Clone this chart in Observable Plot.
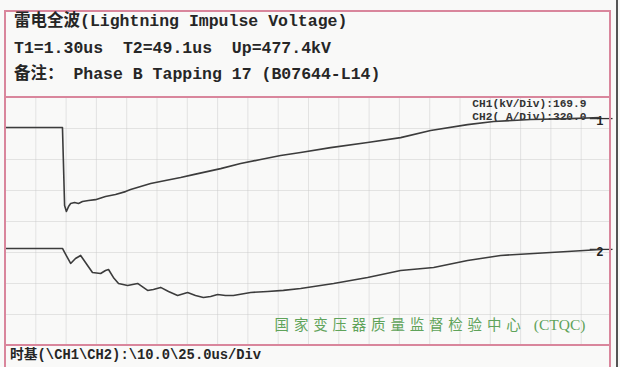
<!DOCTYPE html>
<html><head><meta charset="utf-8">
<script src="https://cdn.jsdelivr.net/npm/d3@7"></script>
<script src="https://cdn.jsdelivr.net/npm/@observablehq/plot@0.6"></script>
<style>
body{margin:0;background:#f9f9f8;width:620px;height:367px;overflow:hidden;position:relative;font-family:"Liberation Mono","Noto Sans CJK SC",monospace;}
.box{position:absolute;left:4px;top:10px;width:607px;height:420px;border:2px solid #d9869c;box-sizing:border-box;}
.hl{position:absolute;left:4px;width:607px;height:2px;background:#d9869c;}
.edge{position:absolute;left:616px;top:0;width:2px;height:367px;background:#555;}
.hdr{position:absolute;left:14px;font-size:16.5px;font-weight:bold;color:#262626;white-space:pre;line-height:18px;}
.ftr{position:absolute;left:10px;top:347px;font-size:13.8px;font-weight:bold;color:#262626;white-space:pre;line-height:18px;}
#chart{position:absolute;left:0;top:97px;}
#chart svg{overflow:visible;}
g[fill="#5fa35a"] text{letter-spacing:4.8px;}
</style>
</head><body>
<div id="chart"></div>
<div class="box"></div>
<div class="hl" style="top:96px"></div>
<div class="hl" style="top:344px"></div>
<div class="edge"></div>
<div class="hdr" style="top:13px">雷电全波(Lightning Impulse Voltage)</div>
<div class="hdr" style="top:40px">T1=1.30us  T2=49.1us  Up=477.4kV</div>
<div class="hdr" style="top:66px">备注： Phase B Tapping 17 (B07644-L14)</div>
<div class="ftr">时基(\CH1\CH2):\10.0\25.0us/Div</div>
<script>
// Time in µs (CH1 timebase, 10 µs/div, 20 divisions across)
const ch1Time = [0,18.8,19.1,19.5,20.1,20.8,21.5,22.8,24.1,25.4,27.4,29.7,33.0,36.3,39.6,41.3,44.6,47.9,52.8,57.8,62.0,71.0,77.6,84.2,90.8,97.4,107.3,119.5,130.4,140.3,152.5,161.1,173.3,186.5,196.4];
// CH1 voltage, kV (169.9 kV/div)
const ch1Volt = [0,0,-181,-427,-460,-433,-416,-411,-416,-405,-400,-395,-378,-367,-351,-340,-323,-307,-290,-274,-258,-225,-197,-175,-153,-137,-110,-82,-55,-16,16,33,44,49,55];
const ch2Time = [0,18.8,19.5,21.5,23.1,24.8,26.4,28.7,31.4,33.0,34.0,35.6,37.3,40.3,43.6,46.9,48.8,51.2,53.8,56.8,60.1,62.7,65.3,67.7,70.0,72.6,75.2,80.9,86.5,91.7,97.4,108.3,119.5,130.4,141.3,152.5,163.4,174.3,185.5,196.4];
// CH2 current, A (320.0 A/div)
const ch2Amp = [0,0,-41,-155,-103,-72,-144,-248,-258,-227,-217,-299,-361,-382,-361,-433,-423,-402,-444,-485,-454,-485,-506,-495,-475,-485,-485,-454,-444,-433,-413,-361,-299,-227,-196,-124,-72,-52,-31,-10];
const ch1Scale = 169.9, ch2Scale = 320.0;     // units per division
const ch1Zero = 3.03, ch2Zero = -0.87;        // screen offsets in divisions
const markerLabels = ["1","2"];
const markerLevels = [3.32, -0.9];
const chLabel = "CH1(kV/Div):169.9\nCH2( A/Div):320.0";
const labName = "国家变压器质量监督检验中心";
const labCode = "(CTQC)";

const ch1 = ch1Time.map((t,i)=>({t, y: ch1Zero + ch1Volt[i]/ch1Scale}));
const ch2 = ch2Time.map((t,i)=>({t, y: ch2Zero + ch2Amp[i]/ch2Scale}));
const markers = markerLabels.map((label,i)=>({label, level: markerLevels[i]}));

const chart = Plot.plot({
  width: 620, height: 248,
  marginLeft: 5, marginRight: 9, marginTop: 0, marginBottom: 0,
  x: {domain: [0, 200], axis: null},
  y: {domain: [-4, 4], axis: null},
  style: {background: "transparent", overflow: "visible"},
  marks: [
    Plot.gridX(d3.range(10, 200, 10), {stroke: "#c8c8c8", strokeOpacity: 0.45}),
    Plot.gridY(d3.range(-3, 4, 1), {stroke: "#c8c8c8", strokeOpacity: 0.45}),
    Plot.text([chLabel], {frameAnchor: "top-right", dx: -25, dy: 1, lineAnchor: "top", lineHeight: 1.12,
      fontSize: 11.2, fontWeight: "bold", fill: "#333", fontFamily: "Liberation Mono, monospace"}),
    Plot.text([labName], {frameAnchor: "bottom-right", dx: -86, dy: -20, lineAnchor: "middle",
      fontSize: 14.5, fill: "#5fa35a", fontFamily: "Noto Sans CJK SC, sans-serif"}),
    Plot.text([labCode], {frameAnchor: "bottom-right", dx: -26, dy: -20, lineAnchor: "middle",
      fontSize: 15.5, fill: "#5ea25a", fontFamily: "Liberation Serif, serif"}),
    Plot.ruleY(markers, {y: "level", x1: 193, x2: 200.5, stroke: "#333", strokeWidth: 1.3}),
    Plot.text(markers, {y: "level", text: "label", frameAnchor: "right", dx: -8, dy: 3,
      fontSize: 12, fontWeight: "bold", fill: "#222", fontFamily: "Liberation Mono, monospace"}),
    Plot.line(ch1, {x: "t", y: "y", stroke: "#3c3c3c", strokeWidth: 1.6}),
    Plot.line(ch2, {x: "t", y: "y", stroke: "#3c3c3c", strokeWidth: 1.6})
  ]
});
document.getElementById("chart").append(chart);
</script>
</body></html>
